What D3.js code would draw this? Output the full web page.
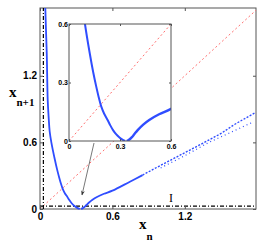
<!DOCTYPE html>
<html lang="en">
  <head>
    <meta charset="UTF-8" />
    <title>Return map</title>
    <style>
      body { margin: 0; background: #fff; }
      .tick text { font-family: "Liberation Sans", Arial, sans-serif; font-weight: bold; }
      .lbl { font-family: "Liberation Serif", "Times New Roman", serif; font-weight: bold; }
    </style>
  </head>
  <body>
    <script src="https://cdn.jsdelivr.net/npm/d3@7"></script>
    <script>
      // main map, left branch (x_n, x_n+1)
      var leftX = [0.044, 0.05, 0.056, 0.064, 0.072, 0.08, 0.094, 0.122, 0.143, 0.16, 0.176, 0.19, 0.207, 0.227, 0.243, 0.259, 0.277, 0.297, 0.312, 0.33];
      var leftY = [1.81, 1.6, 1.4, 0.98, 0.82, 0.7, 0.6, 0.45, 0.35, 0.28, 0.22, 0.176, 0.14, 0.108, 0.08, 0.056, 0.035, 0.018, 0.008, 0.0];

      // right branch, dense part
      var rightX = [0.34, 0.355, 0.37, 0.385, 0.404, 0.435, 0.472, 0.53, 0.6, 0.745, 0.85];
      var rightY = [0.0, 0.008, 0.02, 0.036, 0.056, 0.083, 0.108, 0.137, 0.165, 0.246, 0.305];

      // right branch, sparse dotted strands
      var upperX = [0.85, 0.925, 1.1, 1.297, 1.5, 1.61, 1.78];
      var upperY = [0.305, 0.35, 0.45, 0.562, 0.68, 0.76, 0.866];
      var lowerX = [1.0, 1.2, 1.4, 1.64, 1.76];
      var lowerY = [0.37, 0.48, 0.6, 0.72, 0.78];

      // dash-dot lines (fixed points)
      var vLineX = 0.028;
      var hLineY = 0.025;

      var mainTicks = [0, 0.6, 1.2];
      var insetTicks = [0, 0.3, 0.6];

      var w = 277, h = 249;

      var svg = d3.select("body").append("svg")
        .attr("width", w)
        .attr("height", h);

      var xScale = d3.scaleLinear().domain([0, 1.79]).range([40, 256]);
      var yScale = d3.scaleLinear().domain([0, 1.81]).range([209, 8]);

      var blue = "#2f4dff";

      function pts(xs, ys) {
        return xs.map(function(d, i) { return [d, ys[i]]; });
      }

      var line = d3.line()
        .x(function(d) { return xScale(d[0]); })
        .y(function(d) { return yScale(d[1]); });

      var smooth = d3.line().curve(d3.curveCatmullRom.alpha(0.5))
        .x(function(d) { return xScale(d[0]); })
        .y(function(d) { return yScale(d[1]); });

      // frame
      svg.append("rect")
        .attr("x", 40).attr("y", 8)
        .attr("width", 216).attr("height", 201)
        .attr("fill", "none")
        .attr("stroke", "#555")
        .attr("stroke-width", 1);

      var main = svg.append("g");

      // diagonal
      main.append("path")
        .datum([[0, 0], [1.79, 1.79]])
        .attr("d", line)
        .attr("stroke", "#ff7070")
        .attr("stroke-width", 1)
        .attr("stroke-dasharray", "2,2.5")
        .attr("fill", "none");

      // dash-dot lines
      main.append("path")
        .datum([[vLineX, 0], [vLineX, 1.81]])
        .attr("d", line)
        .attr("stroke", "#000")
        .attr("stroke-width", 1.2)
        .attr("stroke-dasharray", "4,2,1,2")
        .attr("fill", "none");

      main.append("path")
        .datum([[0, hLineY], [1.79, hLineY]])
        .attr("d", line)
        .attr("stroke", "#000")
        .attr("stroke-width", 1.2)
        .attr("stroke-dasharray", "4,2,1,2")
        .attr("fill", "none");

      // branches
      main.append("path")
        .datum(pts(leftX, leftY))
        .attr("d", smooth)
        .attr("stroke", blue)
        .attr("stroke-width", 1.8)
        .attr("fill", "none");

      main.append("path")
        .datum(pts(rightX, rightY))
        .attr("d", smooth)
        .attr("stroke", blue)
        .attr("stroke-width", 1.8)
        .attr("fill", "none");

      main.append("path")
        .datum(pts(upperX, upperY))
        .attr("d", line)
        .attr("stroke", blue)
        .attr("stroke-width", 1.4)
        .attr("stroke-dasharray", "2,1.5")
        .attr("fill", "none");

      main.append("path")
        .datum(pts(lowerX, lowerY))
        .attr("d", line)
        .attr("stroke", blue)
        .attr("stroke-width", 1.2)
        .attr("stroke-dasharray", "1,3")
        .attr("fill", "none");

      // axes
      var fmt = function(d) { return d === 0 ? "0" : d3.format(".1f")(d); };
      var xAxis = d3.axisBottom(xScale).tickValues(mainTicks).tickSize(-3).tickPadding(4).tickFormat(fmt);
      var yAxis = d3.axisLeft(yScale).tickValues(mainTicks).tickSize(-3).tickPadding(3).tickFormat(fmt);

      var gx = svg.append("g").attr("transform", "translate(0,209)").call(xAxis);
      var gy = svg.append("g").attr("transform", "translate(40,0)").call(yAxis);
      svg.append("g").attr("transform", "translate(0,8)")
        .call(d3.axisTop(xScale).tickValues(mainTicks).tickSize(-3).tickFormat(""));
      svg.append("g").attr("transform", "translate(256,0)")
        .call(d3.axisRight(yScale).tickValues(mainTicks).tickSize(-3).tickFormat(""));

      svg.selectAll(".domain").remove();
      svg.selectAll(".tick line").attr("stroke", "#555");
      gx.selectAll("text").attr("font-size", 10).attr("fill", "#000");
      gy.selectAll("text").attr("font-size", 10).attr("fill", "#000");

      // inset
      var ix = d3.scaleLinear().domain([0, 0.6]).range([69, 171]);
      var iy = d3.scaleLinear().domain([0, 0.6]).range([141, 24]);
      var iline = d3.line()
        .x(function(d) { return ix(d[0]); })
        .y(function(d) { return iy(d[1]); });
      var ismooth = d3.line().curve(d3.curveCatmullRom.alpha(0.5))
        .x(function(d) { return ix(d[0]); })
        .y(function(d) { return iy(d[1]); });

      var inset = svg.append("g");
      inset.append("rect")
        .attr("x", 69).attr("y", 24)
        .attr("width", 102).attr("height", 117)
        .attr("fill", "#fff");

      inset.append("clipPath").attr("id", "ic")
        .append("rect").attr("x", 69).attr("y", 24).attr("width", 102).attr("height", 117);

      var ic = inset.append("g").attr("clip-path", "url(#ic)");

      ic.append("path")
        .datum([[0, 0], [0.6, 0.6]])
        .attr("d", iline)
        .attr("stroke", "#ff7070")
        .attr("stroke-width", 1)
        .attr("stroke-dasharray", "2,2.5")
        .attr("fill", "none");

      ic.append("path")
        .datum(pts(leftX, leftY))
        .attr("d", ismooth)
        .attr("stroke", blue)
        .attr("stroke-width", 2)
        .attr("fill", "none");

      ic.append("path")
        .datum(pts(rightX, rightY))
        .attr("d", ismooth)
        .attr("stroke", blue)
        .attr("stroke-width", 2.4)
        .attr("fill", "none");

      inset.append("rect")
        .attr("x", 69).attr("y", 24)
        .attr("width", 102).attr("height", 117)
        .attr("fill", "none")
        .attr("stroke", "#555");

      var ixa = inset.append("g").attr("transform", "translate(0,141)")
        .call(d3.axisBottom(ix).tickValues(insetTicks).tickSize(-2).tickPadding(3).tickFormat(fmt));
      var iya = inset.append("g").attr("transform", "translate(69,0)")
        .call(d3.axisLeft(iy).tickValues(insetTicks).tickSize(-2).tickPadding(1).tickFormat(fmt));
      inset.append("g").attr("transform", "translate(0,24)")
        .call(d3.axisTop(ix).tickValues(insetTicks).tickSize(-2).tickFormat(""));
      inset.append("g").attr("transform", "translate(171,0)")
        .call(d3.axisRight(iy).tickValues(insetTicks).tickSize(-2).tickFormat(""));

      inset.selectAll(".domain").remove();
      inset.selectAll(".tick line").attr("stroke", "#555");
      ixa.selectAll("text").attr("font-size", 7).attr("fill", "#000");
      iya.selectAll("text").attr("font-size", 7).attr("fill", "#000");

      // arrow from inset to the minimum
      svg.append("defs").append("marker")
        .attr("id", "ah")
        .attr("viewBox", "0 0 10 10")
        .attr("refX", 9).attr("refY", 5)
        .attr("markerWidth", 6).attr("markerHeight", 6)
        .attr("orient", "auto")
        .append("path")
        .attr("d", "M0,1L10,5L0,9L3,5Z")
        .attr("fill", "#333");

      svg.append("line")
        .attr("x1", 94).attr("y1", 143)
        .attr("x2", xScale(0.348)).attr("y2", yScale(0.126))
        .attr("stroke", "#555")
        .attr("stroke-width", 0.8)
        .attr("marker-end", "url(#ah)");

      // labels
      svg.append("text")
        .attr("x", 171).attr("y", 201.5)
        .attr("text-anchor", "middle")
        .attr("font-family", "'Liberation Serif', serif")
        .attr("font-size", 12)
        .attr("fill", "#000")
        .text("I");

      var yl = svg.append("text").attr("class", "lbl").attr("x", 9).attr("y", 97);
      yl.append("tspan").attr("font-size", 15).text("x");
      yl.append("tspan").attr("font-size", 11).attr("dy", 9).text("n+1");

      var xl = svg.append("text").attr("class", "lbl").attr("x", 139).attr("y", 229);
      xl.append("tspan").attr("font-size", 15).text("x");
      xl.append("tspan").attr("font-size", 11).attr("dy", 11).text("n");
    </script>
  </body>
</html>
